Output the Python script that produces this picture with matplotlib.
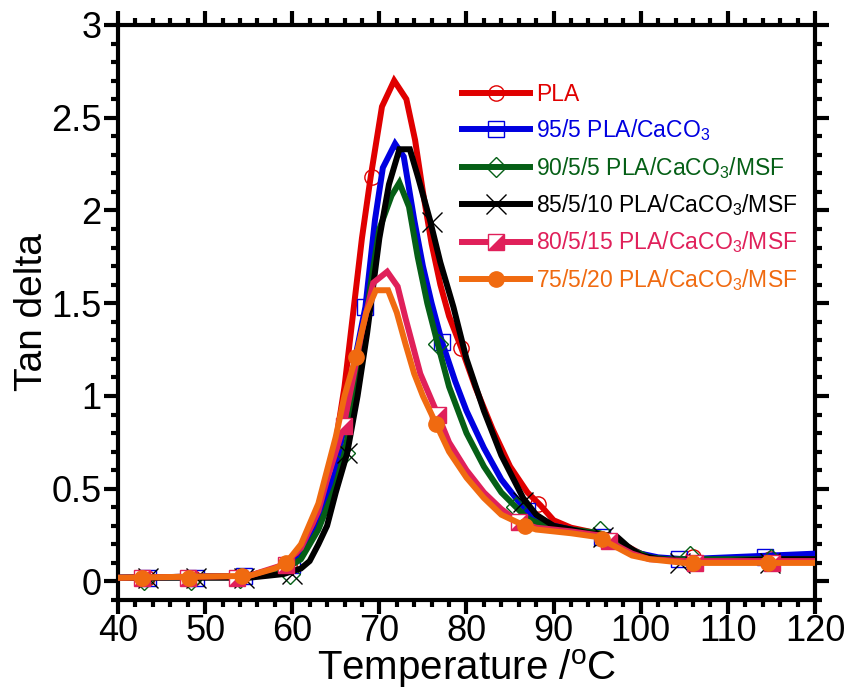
import matplotlib.pyplot as plt
from matplotlib.lines import Line2D
from matplotlib.ticker import MultipleLocator, FormatStrFormatter

plt.rcParams['font.family'] = ['Liberation Sans', 'DejaVu Sans']
plt.rcParams['mathtext.default'] = 'regular'

# temperature (degC) / tan delta
pla_t = [40, 55, 59, 61, 63, 65, 66, 67, 68, 69, 70.3, 71.7, 73.1, 74.1, 75, 76, 77, 78,
         79.4, 81, 83, 85, 87, 88.5, 90, 92, 94, 96, 98, 100, 102, 105, 110, 115, 120]
pla_v = [0.02, 0.03, 0.08, 0.15, 0.35, 0.75, 1.05, 1.45, 1.85, 2.18, 2.56, 2.70, 2.60, 2.38,
         2.10, 1.82, 1.60, 1.43, 1.26, 1.05, 0.82, 0.62, 0.48, 0.41, 0.33, 0.29, 0.27, 0.25,
         0.20, 0.15, 0.12, 0.12, 0.12, 0.13, 0.14]

c95_t = [40, 55, 59, 61, 63, 65, 66, 67, 68.4, 69.5, 70.4, 71.8, 72.8, 74, 75, 76, 77.2, 78.7,
         80, 82, 84, 86, 87, 88, 90, 92, 94, 96, 98, 100, 102, 105, 110, 115, 120]
c95_v = [0.02, 0.03, 0.07, 0.13, 0.30, 0.60, 0.85, 1.15, 1.48, 1.95, 2.23, 2.36, 2.29, 1.95,
         1.70, 1.50, 1.29, 1.08, 0.92, 0.72, 0.55, 0.43, 0.38, 0.34, 0.30, 0.28, 0.26, 0.23,
         0.19, 0.15, 0.13, 0.12, 0.13, 0.14, 0.15]

m5_t = [40, 55, 59, 61, 63, 65, 66.1, 67, 68, 69, 70, 71.4, 72.3, 73.4, 74.4, 75.5, 76.7, 78,
        80, 82, 84, 85.7, 87, 89, 92, 95.3, 97, 99, 101, 103, 105.7, 110, 115, 120]
m5_v = [0.02, 0.03, 0.06, 0.12, 0.28, 0.52, 0.71, 0.95, 1.25, 1.60, 1.90, 2.08, 2.15, 2.02,
        1.75, 1.50, 1.28, 1.05, 0.80, 0.62, 0.48, 0.40, 0.34, 0.30, 0.28, 0.26, 0.23, 0.17,
        0.13, 0.12, 0.12, 0.12, 0.12, 0.12]

m10_t = [40, 55, 59, 61, 62, 63, 64, 65, 66.3, 67.5, 68.6, 70, 71.1, 72.3, 73.5, 74.5, 75.8,
         77, 78.5, 80, 82, 84, 86.5, 88, 90, 92, 94, 96, 97.3, 98.5, 100, 102, 105, 110, 115, 120]
m10_v = [0.02, 0.02, 0.04, 0.07, 0.11, 0.20, 0.30, 0.48, 0.69, 1.00, 1.34, 1.85, 2.14, 2.33,
         2.33, 2.17, 1.95, 1.72, 1.48, 1.20, 0.92, 0.68, 0.45, 0.36, 0.30, 0.28, 0.26, 0.25,
         0.24, 0.19, 0.14, 0.12, 0.11, 0.11, 0.12, 0.12]

m15_t = [40, 55, 59, 61, 63, 64, 65, 65.9, 67, 68, 69.3, 70.9, 72.1, 73, 74.7, 76.7, 78, 80,
         82, 84, 86, 88, 92, 95, 97, 99, 101, 105, 110, 115, 120]
m15_v = [0.02, 0.03, 0.09, 0.18, 0.38, 0.55, 0.70, 0.84, 1.10, 1.35, 1.61, 1.67, 1.59, 1.42,
         1.12, 0.90, 0.75, 0.60, 0.48, 0.39, 0.32, 0.29, 0.27, 0.25, 0.20, 0.15, 0.12, 0.11,
         0.11, 0.11, 0.11]

m20_t = [40, 55, 58, 59.3, 61, 63, 65, 66, 67.3, 68.5, 69.6, 71, 72, 73, 74, 75, 76.5, 78, 80,
         82, 84, 86.7, 88, 92, 95, 97, 99, 101, 105, 110, 115, 120]
m20_v = [0.02, 0.03, 0.07, 0.10, 0.20, 0.42, 0.78, 1.00, 1.21, 1.45, 1.57, 1.57, 1.45, 1.28,
         1.12, 1.00, 0.85, 0.70, 0.56, 0.45, 0.36, 0.30, 0.28, 0.26, 0.24, 0.19, 0.14, 0.12,
         0.10, 0.10, 0.10, 0.10]

# symbol positions
pla_mt = [43.3, 48.6, 54.2, 59.6, 69.2, 79.4, 88.2, 96.2, 106, 114.8]
pla_mv = [0.02, 0.02, 0.03, 0.09, 2.18, 1.26, 0.42, 0.22, 0.13, 0.12]
c95_mt = [43.5, 49.0, 54.5, 60.0, 68.4, 77.2, 86.9, 95.6, 104.4, 114.3]
c95_mv = [0.02, 0.02, 0.03, 0.09, 1.48, 1.29, 0.38, 0.24, 0.12, 0.13]
m5_mt = [43.0, 48.4, 54.0, 59.7, 66.1, 76.7, 85.7, 95.3, 105.7, 115.0]
m5_mv = [0.01, 0.01, 0.02, 0.04, 0.69, 1.28, 0.40, 0.27, 0.14, 0.12]
m10_mt = [43.5, 49.0, 54.5, 60.0, 66.3, 76.0, 86.5, 95.7, 104.5, 114.8]
m10_mv = [0.02, 0.02, 0.02, 0.04, 0.69, 1.94, 0.43, 0.24, 0.10, 0.10]
m15_mt = [42.8, 48.0, 53.7, 59.3, 65.9, 76.7, 86.0, 96.3, 106.2, 115.1]
m15_mv = [0.02, 0.02, 0.02, 0.09, 0.84, 0.90, 0.32, 0.22, 0.10, 0.10]
m20_mt = [42.8, 48.1, 54.2, 59.3, 67.3, 76.5, 86.7, 95.6, 106.0, 114.6]
m20_mv = [0.02, 0.02, 0.03, 0.10, 1.21, 0.85, 0.30, 0.23, 0.10, 0.10]

labels = ['PLA', '95/5 PLA/CaCO$_3$', '90/5/5 PLA/CaCO$_3$/MSF',
          '85/5/10 PLA/CaCO$_3$/MSF', '80/5/15 PLA/CaCO$_3$/MSF', '75/5/20 PLA/CaCO$_3$/MSF']
colors = ['#e00000', '#0000e0', '#055f16', '#000000', '#e0205a', '#f06a10']

series = [(pla_t, pla_v, pla_mt, pla_mv), (c95_t, c95_v, c95_mt, c95_mv),
          (m5_t, m5_v, m5_mt, m5_mv), (m10_t, m10_v, m10_mt, m10_mv),
          (m15_t, m15_v, m15_mt, m15_mv), (m20_t, m20_v, m20_mt, m20_mv)]

fig = plt.figure(figsize=(8.45, 6.9), dpi=100)
ax = fig.add_axes([0.1396, 0.1304, 0.8249, 0.8334])

lw = 4.3
half = [(-1, -1), (1, -1), (1, 1)]  # lower-right triangle of the half filled square

handles = []
for i, (t, v, mt, mv) in enumerate(series):
    c = colors[i]
    ax.plot(t, v, color=c, lw=lw, zorder=2 + i, solid_joinstyle='miter')
    if i == 0:
        mk = [dict(marker='o', ms=11, mfc='none', mec=c, mew=1)]
    elif i == 1:
        mk = [dict(marker='s', ms=11, mfc='none', mec=c, mew=1)]
    elif i == 2:
        mk = [dict(marker='D', ms=10, mfc='none', mec=c, mew=1)]
    elif i == 3:
        mk = [dict(marker='x', ms=14, mec=c, mew=1)]
    elif i == 4:
        mk = [dict(marker='s', ms=11, mfc='white', mec=c, mew=1),
              dict(marker=half, ms=11, mfc=c, mec='none', mew=0)]
    else:
        mk = [dict(marker='o', ms=11, mfc=c, mec=c, mew=1)]
    h = [Line2D([], [], color=c, lw=lw)]
    for m in mk:
        ax.plot(mt, mv, ls='none', zorder=2.5 + i, **m)
        h.append(Line2D([], [], ls='none', **m))
    handles.append(tuple(h))

ax.set_xlim(40, 120)
ax.set_ylim(-0.1, 3)
ax.xaxis.set_major_locator(MultipleLocator(10))
ax.xaxis.set_minor_locator(MultipleLocator(2))
ax.yaxis.set_major_locator(MultipleLocator(0.5))
ax.yaxis.set_minor_locator(MultipleLocator(0.1))
ax.yaxis.set_major_formatter(FormatStrFormatter('%g'))

for s in ax.spines.values():
    s.set_linewidth(3)
ax.tick_params(which='both', direction='out', top=True, right=True, width=3)
ax.tick_params(which='major', length=10, labelsize=26, pad=2)
ax.tick_params(axis='x', which='major', pad=0)
ax.tick_params(which='minor', length=5)

ax.set_xlabel('Temperature /$^{o}$C', fontsize=29, labelpad=-1)
ax.set_ylabel('Tan delta', fontsize=28, labelpad=1)

leg = ax.legend(handles, labels, loc='upper left', bbox_to_anchor=(0.48, 0.915),
                frameon=False, fontsize=16.5, handlelength=3.0, handletextpad=0.25,
                labelspacing=0.5, borderaxespad=0)
for txt, c in zip(leg.get_texts(), colors):
    txt.set_color(c)

fig.savefig('out.png', dpi=100)
